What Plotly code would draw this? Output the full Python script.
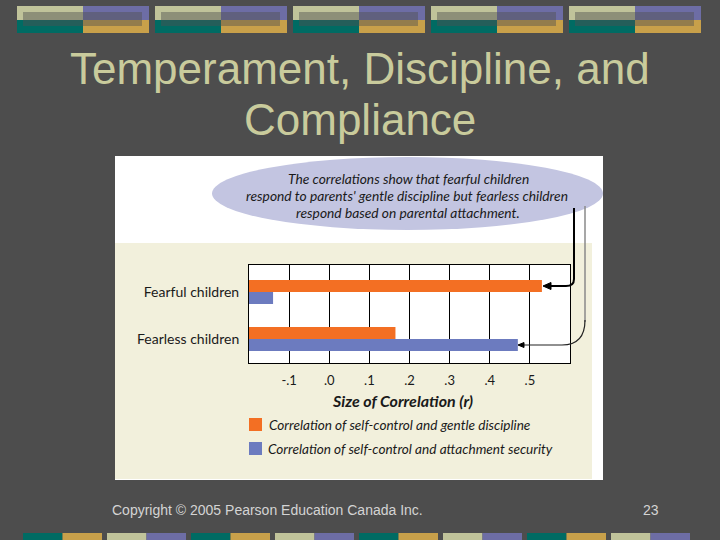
import plotly.graph_objects as go

# ---- data ----
categories = ["Fearful children", "Fearless children"]
gentle_discipline = [0.53, 0.165]
attachment_security = [-0.14, 0.47]
series_names = ["Correlation of self-control and gentle discipline",
                "Correlation of self-control and attachment security"]
tick_vals = [-0.1, 0.0, 0.1, 0.2, 0.3, 0.4, 0.5]
tick_text = ["-.1", ".0", ".1", ".2", ".3", ".4", ".5"]
x_range = [-0.2, 0.6]
bar_base = -0.2

ORANGE = "#F36F23"
BLUE = "#6C7BBF"
BG = "#4D4D4D"
KHAKI = "#C0C39A"
PURPLE = "#6D6DA5"
TEAL = "#006B63"
GOLD = "#C8A04A"
TITLE_C = "#C9CB9C"
CREAM = "#F2F0DC"
ELLIPSE = "#C3C5E1"

W, H = 720, 540
L, R, T, B = 249, 570, 265, 363  # plot area in pixels
PW, PH = R - L, B - T


def px(x):
    return (x - L) / PW


def py(y):
    return (B - y) / PH


fig = go.Figure()
fig.add_trace(go.Bar(
    y=categories, x=[v - bar_base for v in gentle_discipline], base=bar_base,
    orientation="h", marker=dict(color=ORANGE, line=dict(width=0)),
    name=series_names[0], showlegend=False))
fig.add_trace(go.Bar(
    y=categories, x=[v - bar_base for v in attachment_security], base=bar_base,
    orientation="h", marker=dict(color=BLUE, line=dict(width=0)),
    name=series_names[1], showlegend=False))

shapes = []


def rect(x0, y0, x1, y1, color, layer="below", opacity=1.0):
    shapes.append(dict(type="rect", xref="paper", yref="paper",
                       x0=px(x0), x1=px(x1), y0=py(y1), y1=py(y0),
                       fillcolor=color, line=dict(width=0), layer=layer,
                       opacity=opacity))


# chart picture panels
rect(115, 156, 603, 480, "white")
rect(115, 243, 592, 479, CREAM)
shapes.append(dict(type="circle", xref="paper", yref="paper",
                   x0=px(212), x1=px(603), y0=py(230), y1=py(157),
                   fillcolor=ELLIPSE, line=dict(width=0), layer="below"))
rect(L, T, R, B, "white")

# top decorative blocks
for i in range(5):
    x0 = 17 + 138 * i
    rect(x0, 6, x0 + 66, 20, KHAKI)
    rect(x0 + 66, 6, x0 + 132, 20, PURPLE)
    rect(x0, 20, x0 + 66, 33, TEAL)
    rect(x0 + 66, 20, x0 + 132, 33, GOLD)
    rect(x0 + 6, 12, x0 + 125, 26, "#505050", opacity=0.45)

# bottom strip
for i in range(8):
    x0 = 23 + 84 * i
    c1, c2 = (TEAL, GOLD) if i % 2 == 0 else (KHAKI, PURPLE)
    rect(x0, 533, x0 + 39.5, 540, c1)
    rect(x0 + 39.5, 533, x0 + 79, 540, c2)


def path(points_cmds):
    out = []
    for cmd, pts in points_cmds:
        s = cmd
        s += " ".join(f"{px(x):.5f},{py(y):.5f}" for x, y in pts)
        out.append(s)
    return " ".join(out)


# arrows from ellipse to bars
shapes.append(dict(type="path", xref="paper", yref="paper", layer="above",
                   path=path([("M", [(574, 208)]), ("L", [(574, 279)]),
                              ("Q", [(574, 286), (566, 286)]), ("L", [(549, 286)])]),
                   line=dict(color="black", width=2)))
shapes.append(dict(type="path", xref="paper", yref="paper", layer="above",
                   path=path([("M", [(543, 286)]), ("L", [(551, 282.5)]),
                              ("L", [(551, 289.5)]), ("Z", [])]),
                   fillcolor="black", line=dict(color="black", width=1)))
shapes.append(dict(type="path", xref="paper", yref="paper", layer="above",
                   path=path([("M", [(585, 206)]), ("L", [(585, 322)])]),
                   line=dict(color="#8A8A8A", width=1.5)))
shapes.append(dict(type="path", xref="paper", yref="paper", layer="above",
                   path=path([("M", [(585, 320)]), ("Q", [(585, 345), (562, 345)]),
                              ("L", [(523, 345)])]),
                   line=dict(color="#222222", width=1.2)))
shapes.append(dict(type="path", xref="paper", yref="paper", layer="above",
                   path=path([("M", [(518, 345)]), ("L", [(524, 342.5)]),
                              ("L", [(524, 347.5)]), ("Z", [])]),
                   fillcolor="black", line=dict(color="black", width=1)))

# legend squares
rect(249, 418, 262, 431, ORANGE, layer="above")
rect(249, 442, 262, 455, BLUE, layer="above")

CHART_FONT = "Lato, 'Open Sans', sans-serif"
ann = []


def text(x, y, s, size, color, family, xanchor="center"):
    ann.append(dict(x=px(x), y=py(y), xref="paper", yref="paper", text=s,
                    showarrow=False, xanchor=xanchor, yanchor="middle",
                    font=dict(size=size, color=color, family=family)))


TITLE_FONT = "Liberation Sans, Arial, sans-serif"
text(360, 68, "Temperament, Discipline, and", 44, TITLE_C, TITLE_FONT)
text(360, 120, "Compliance", 44, TITLE_C, TITLE_FONT)

text(408, 178, "<i>The correlations show that fearful children</i>", 13.8, "#1a1a1a", CHART_FONT)
text(407, 195, "<i>respond to parents' gentle discipline but fearless children</i>", 13.8, "#1a1a1a", CHART_FONT)
text(408, 212, "<i>respond based on parental attachment.</i>", 13.8, "#1a1a1a", CHART_FONT)

text(402, 400, "<b><i>Size of Correlation (r)</i></b>", 16, "#1a1a1a", CHART_FONT)
text(267, 425, "<i>" + series_names[0] + "</i>", 13.6, "#1a1a1a", CHART_FONT, xanchor="left")
text(266, 449, "<i>" + series_names[1] + "</i>", 13.6, "#1a1a1a", CHART_FONT, xanchor="left")

text(110, 510, "Copyright © 2005 Pearson Education Canada Inc.", 14, "#D4D4D4", TITLE_FONT, xanchor="left")
text(651, 510, "23", 14, "#D4D4D4", TITLE_FONT)

fig.update_layout(
    width=W, height=H,
    margin=dict(l=L, r=W - R, t=T, b=H - B, pad=0),
    paper_bgcolor=BG, plot_bgcolor="rgba(0,0,0,0)",
    barmode="group", bargap=0.49, bargroupgap=0,
    shapes=shapes, annotations=ann, showlegend=False,
    xaxis=dict(range=x_range, tickvals=tick_vals, ticktext=tick_text,
               showgrid=True, gridcolor="black", gridwidth=1, zeroline=False,
               showline=True, mirror=True, linecolor="black", linewidth=1,
               ticks="", ticklabelstandoff=5,
               tickfont=dict(size=13, color="#1a1a1a", family=CHART_FONT)),
    yaxis=dict(type="category", categoryorder="array", categoryarray=categories,
               range=[1.51, -0.574], showgrid=False, zeroline=False,
               showline=True, mirror=True, linecolor="black", linewidth=1,
               ticks="", ticklabelstandoff=6,
               tickfont=dict(size=14, color="#1a1a1a", family=CHART_FONT)),
)

fig.write_html(
    "out.html",
    config={"displayModeBar": False},
    post_script="document.body.style.margin='0';document.body.style.padding='0';"
                "document.body.style.overflow='hidden';"
                "document.body.style.background='" + BG + "';",
)
